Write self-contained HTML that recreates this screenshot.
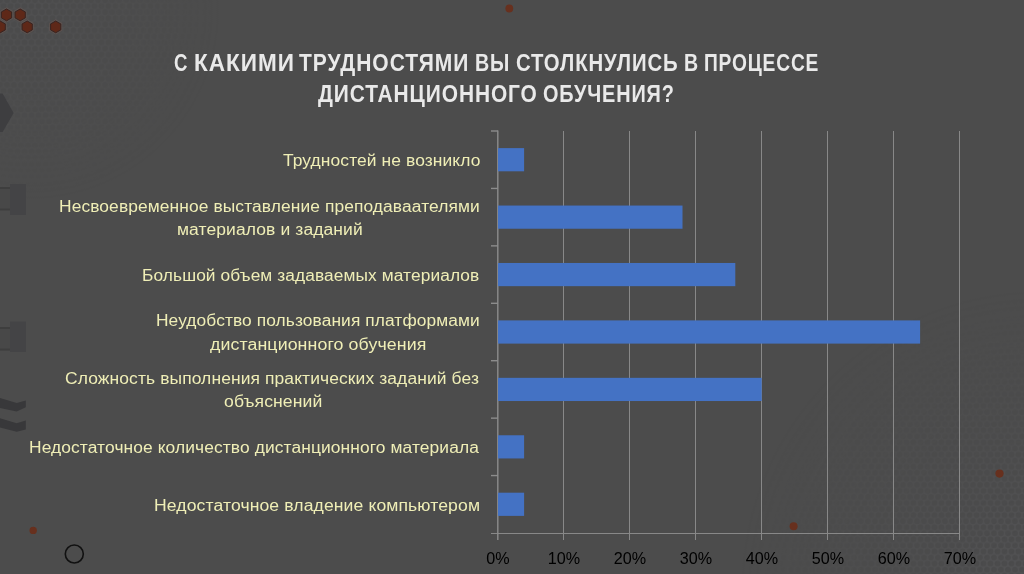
<!DOCTYPE html>
<html><head><meta charset="utf-8">
<style>
html,body{margin:0;padding:0;}
body{width:1024px;height:574px;overflow:hidden;background:#4c4c4c;position:relative;font-family:"Liberation Sans",sans-serif;}
svg{position:absolute;left:0;top:0;}
.t{position:absolute;white-space:nowrap;transform-origin:0 0;}
.ti{font-weight:bold;font-size:23px;line-height:23px;letter-spacing:1.0px;color:#e9e9e9;}
.lb{font-size:17.3px;line-height:17.3px;letter-spacing:0.1px;color:#efeeb6;}
.ax{font-size:17px;line-height:17px;color:#000;width:80px;text-align:center;transform:scaleX(0.95);transform-origin:50% 0;}
</style></head>
<body>
<svg width="1024" height="574" viewBox="0 0 1024 574">
  <defs>
    <pattern id="hx" width="7" height="12.12" patternUnits="userSpaceOnUse">
      <rect width="7" height="12.12" fill="#57575a"/>
      <g fill="#4a4a4c">
        <circle cx="0" cy="0" r="2.9"/><circle cx="7" cy="0" r="2.9"/>
        <circle cx="3.5" cy="6.06" r="2.9"/>
        <circle cx="0" cy="12.12" r="2.9"/><circle cx="7" cy="12.12" r="2.9"/>
      </g>
    </pattern>
    <radialGradient id="gbr" cx="1040" cy="590" r="300" gradientUnits="userSpaceOnUse">
      <stop offset="0" stop-color="#fff" stop-opacity="0.6"/>
      <stop offset="0.5" stop-color="#fff" stop-opacity="0.25"/>
      <stop offset="1" stop-color="#fff" stop-opacity="0"/>
    </radialGradient>
    <radialGradient id="gtl" cx="30" cy="10" r="190" gradientUnits="userSpaceOnUse">
      <stop offset="0" stop-color="#fff" stop-opacity="0.35"/>
      <stop offset="0.6" stop-color="#fff" stop-opacity="0.15"/>
      <stop offset="1" stop-color="#fff" stop-opacity="0"/>
    </radialGradient>
    <mask id="mbr"><rect width="1024" height="574" fill="url(#gbr)"/></mask>
    <mask id="mtl"><rect width="1024" height="574" fill="url(#gtl)"/></mask>
  </defs>
  <rect width="1024" height="574" fill="url(#hx)" mask="url(#mbr)"/>
  <rect width="1024" height="574" fill="url(#hx)" mask="url(#mtl)"/>
  <g fill="none" stroke="#6a5852" stroke-opacity="0.55" stroke-width="1.2">
    <polygon points="6.50,8.00 12.48,11.45 12.48,18.35 6.50,21.80 0.52,18.35 0.52,11.45"/>
    <polygon points="20.20,8.00 26.18,11.45 26.18,18.35 20.20,21.80 14.22,18.35 14.22,11.45"/>
    <polygon points="0.20,20.00 6.18,23.45 6.18,30.35 0.20,33.80 -5.78,30.35 -5.78,23.45"/>
    <polygon points="27.20,20.00 33.18,23.45 33.18,30.35 27.20,33.80 21.22,30.35 21.22,23.45"/>
    <polygon points="55.70,20.00 61.68,23.45 61.68,30.35 55.70,33.80 49.72,30.35 49.72,23.45"/>
  </g>
  <g fill="#5e2818" stroke="#3a2420" stroke-width="1" stroke-linejoin="round">
    <polygon points="6.50,9.00 11.61,11.95 11.61,17.85 6.50,20.80 1.39,17.85 1.39,11.95"/>
    <polygon points="20.20,9.00 25.31,11.95 25.31,17.85 20.20,20.80 15.09,17.85 15.09,11.95"/>
    <polygon points="0.20,21.00 5.31,23.95 5.31,29.85 0.20,32.80 -4.91,29.85 -4.91,23.95"/>
    <polygon points="27.20,21.00 32.31,23.95 32.31,29.85 27.20,32.80 22.09,29.85 22.09,23.95"/>
    <polygon points="55.70,21.00 60.81,23.95 60.81,29.85 55.70,32.80 50.59,29.85 50.59,23.95"/>
  </g>
  <g fill="#67301e">
    <circle cx="509.3" cy="8.5" r="3.9"/>
    <circle cx="33.2" cy="530.4" r="3.7"/>
    <circle cx="793.6" cy="526.2" r="4"/>
    <circle cx="999.5" cy="473.6" r="4.1"/>
  </g>
  <circle cx="74.3" cy="554" r="9" fill="none" stroke="#111" stroke-width="1.6"/>
  <polygon points="-10,93.6 2.6,93.6 13.6,112.9 2.6,132 -10,132" fill="#3e3e40"/>
  <rect x="0" y="187" width="10" height="23" fill="#484848"/>
  <rect x="0" y="187" width="10" height="2" fill="#3e3e3e"/>
  <rect x="0" y="208.5" width="10" height="2" fill="#3e3e3e"/>
  <rect x="10" y="184" width="16" height="31" fill="#444446"/>
  <rect x="0" y="327" width="10" height="24" fill="#484848"/>
  <rect x="0" y="327" width="10" height="2" fill="#3e3e3e"/>
  <rect x="0" y="348.5" width="10" height="2" fill="#3e3e3e"/>
  <rect x="10" y="321.5" width="16" height="30.5" fill="#444446"/>
  <polygon points="0,398 16.7,403 25.8,400.6 25.8,407.2 16.7,411.4 0,407.9" fill="#38383a"/>
  <polygon points="0,418.3 16.7,423.2 25.8,420.4 25.8,429.5 16.7,431.8 0,427.4" fill="#38383a"/>
  <g stroke="#888888" stroke-width="1">
    <line x1="563.5" y1="131" x2="563.5" y2="540"/>
    <line x1="629.5" y1="131" x2="629.5" y2="540"/>
    <line x1="695.5" y1="131" x2="695.5" y2="540"/>
    <line x1="761.5" y1="131" x2="761.5" y2="540"/>
    <line x1="827.5" y1="131" x2="827.5" y2="540"/>
    <line x1="893.5" y1="131" x2="893.5" y2="540"/>
    <line x1="959.5" y1="131" x2="959.5" y2="540"/>
    <line x1="491" y1="533.5" x2="960" y2="533.5"/>
  </g>
  <g stroke="#8c8c8c" stroke-width="1.4">
    <line x1="497.8" y1="130.5" x2="497.8" y2="540"/>
    <line x1="491" y1="131.00" x2="498" y2="131.00"/>
    <line x1="491" y1="188.43" x2="498" y2="188.43"/>
    <line x1="491" y1="245.86" x2="498" y2="245.86"/>
    <line x1="491" y1="303.29" x2="498" y2="303.29"/>
    <line x1="491" y1="360.71" x2="498" y2="360.71"/>
    <line x1="491" y1="418.14" x2="498" y2="418.14"/>
    <line x1="491" y1="475.57" x2="498" y2="475.57"/>
  </g>
  <g fill="#4472c4">
    <rect x="498" y="148.11" width="26.10" height="23.2"/>
    <rect x="498" y="205.54" width="184.50" height="23.2"/>
    <rect x="498" y="262.97" width="237.30" height="23.2"/>
    <rect x="498" y="320.40" width="422.10" height="23.2"/>
    <rect x="498" y="377.83" width="263.70" height="23.2"/>
    <rect x="498" y="435.26" width="26.10" height="23.2"/>
    <rect x="498" y="492.69" width="26.10" height="23.2"/>
  </g>
</svg>
<div class="t ti" style="left:174.07px;top:52.33px;transform:scaleX(0.8079)">С</div>
<div class="t ti" style="left:193.63px;top:52.33px;transform:scaleX(0.9800)">КАКИМИ</div>
<div class="t ti" style="left:299.12px;top:52.33px;transform:scaleX(0.9145)">ТРУДНОСТЯМИ</div>
<div class="t ti" style="left:474.91px;top:52.33px;transform:scaleX(0.8569)">ВЫ</div>
<div class="t ti" style="left:515.70px;top:52.33px;transform:scaleX(0.8840)">СТОЛКНУЛИСЬ</div>
<div class="t ti" style="left:683.62px;top:52.33px;transform:scaleX(0.8511)">В</div>
<div class="t ti" style="left:703.85px;top:52.33px;transform:scaleX(0.8337)">ПРОЦЕССЕ</div>
<div class="t ti" style="left:317.82px;top:83.33px;transform:scaleX(0.9089)">ДИСТАНЦИОННОГО</div>
<div class="t ti" style="left:543.02px;top:83.33px;transform:scaleX(0.8644)">ОБУЧЕНИЯ?</div>
<div class="t lb" style="left:282.60px;top:152.07px;transform:scaleX(1.0075)">Трудностей не возникло</div>
<div class="t lb" style="left:58.79px;top:197.60px;transform:scaleX(1.0057)">Несвоевременное выставление преподаваателями</div>
<div class="t lb" style="left:176.59px;top:221.20px;transform:scaleX(1.0113)">материалов и заданий</div>
<div class="t lb" style="left:142.10px;top:266.93px;transform:scaleX(1.0019)">Большой объем задаваемых материалов</div>
<div class="t lb" style="left:156.20px;top:312.46px;transform:scaleX(1.0034)">Неудобство пользования платформами</div>
<div class="t lb" style="left:210.20px;top:336.06px;transform:scaleX(1.0270)">дистанционного обучения</div>
<div class="t lb" style="left:65.39px;top:369.89px;transform:scaleX(1.0095)">Сложность выполнения практических заданий без</div>
<div class="t lb" style="left:223.99px;top:393.49px;transform:scaleX(1.0171)">объяснений</div>
<div class="t lb" style="left:28.59px;top:439.22px;transform:scaleX(1.0062)">Недостаточное количество дистанционного материала</div>
<div class="t lb" style="left:154.37px;top:496.65px;transform:scaleX(1.0180)">Недостаточное владение компьютером</div>
<div class="t ax" style="left:457.6px;top:550.01px">0%</div>
<div class="t ax" style="left:523.6px;top:550.01px">10%</div>
<div class="t ax" style="left:589.6px;top:550.01px">20%</div>
<div class="t ax" style="left:655.6px;top:550.01px">30%</div>
<div class="t ax" style="left:721.6px;top:550.01px">40%</div>
<div class="t ax" style="left:787.6px;top:550.01px">50%</div>
<div class="t ax" style="left:853.6px;top:550.01px">60%</div>
<div class="t ax" style="left:919.6px;top:550.01px">70%</div>
</body></html>
